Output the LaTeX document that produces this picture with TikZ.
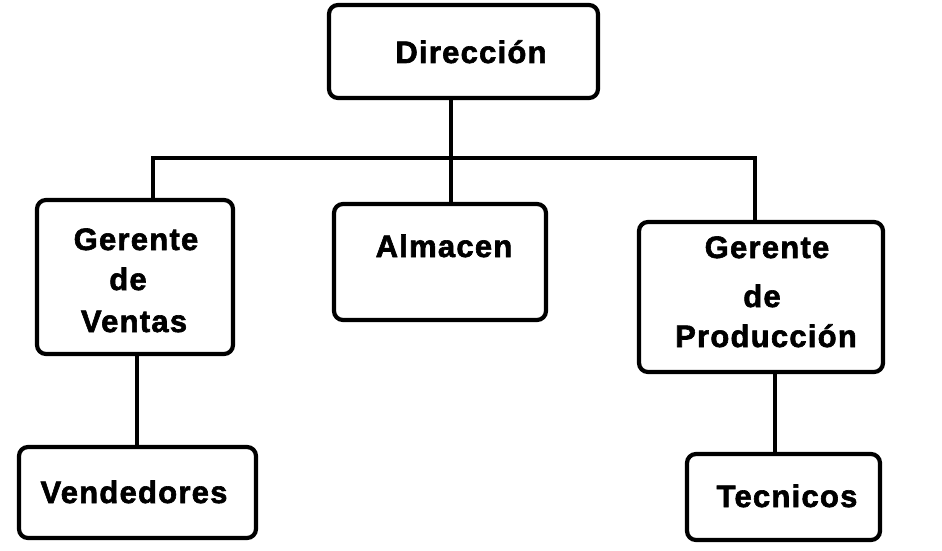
\documentclass[tikz,border=0pt]{standalone}
\usepackage{fontspec}
\setmainfont{Liberation Sans}[LetterSpace=4,BoldFeatures={FakeBold=2}]
\begin{document}
\begin{tikzpicture}[x=1pt,y=-1pt,
  box/.style={draw=black,line width=4.2pt,rounded corners=9pt,inner sep=0pt,fill=white},
  lbl/.style={anchor=base,inner sep=0pt,font=\fontsize{31}{36}\selectfont\bfseries},
  link/.style={draw=black,line width=4.2pt}]
\useasboundingbox[fill=white] (0,0) rectangle (942,551);
% boxes
\node[box,minimum width=269pt,minimum height=93pt] (dir) at (463.5,51.5) {};
\node[box,minimum width=196pt,minimum height=154pt] (ven) at (135,277) {};
\node[box,minimum width=212pt,minimum height=116pt] (alm) at (440,262) {};
\node[box,minimum width=244pt,minimum height=150pt] (pro) at (761,297) {};
\node[box,minimum width=237pt,minimum height=91pt] (vdd) at (137.5,492.5) {};
\node[box,minimum width=193pt,minimum height=86pt] (tec) at (783.5,497) {};
% junctions
\coordinate (j) at (451,158);
\coordinate (jl) at (153,158);
\coordinate (jr) at (755,158);
\coordinate (cv) at (137,0);
\coordinate (cp) at (775,0);
% connectors
\draw[link] (dir.south -| j) -- (alm.north -| j);
\draw[link] (ven.north -| jl) -- (jl) -- (jr) -- (pro.north -| jr);
\draw[link] (ven.south -| cv) -- (vdd.north -| cv);
\draw[link] (pro.south -| cp) -- (tec.north -| cp);
% texts
\node[lbl] (tdir) at (471,63) {Dirección};
\node[lbl] (tven1) at (136,250) {Gerente};
\node[lbl] (tven2) at (128,290) {de};
\node[lbl] (tven3) at (134,332) {Ventas};
\node[lbl] (talm) at (444,257) {Almacen};
\node[lbl] (tpro1) at (767,258) {Gerente};
\node[lbl] (tpro2) at (762,307) {de};
\node[lbl] (tpro3) at (766,347) {Producción};
\node[lbl] (tvdd) at (134,503) {Vendedores};
\node[lbl] (ttec) at (787,507) {Tecnicos};
\end{tikzpicture}
\end{document}
